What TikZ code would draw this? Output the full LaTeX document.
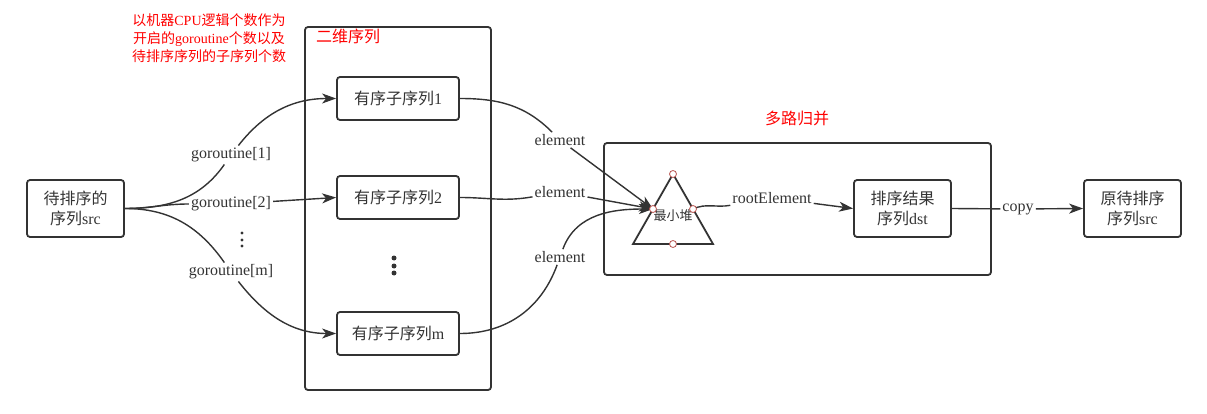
\documentclass[tikz,border=0pt]{standalone}
\usepackage{fontspec}
\setmainfont{Liberation Serif}
\newfontfamily\cjk{Noto Sans CJK SC}
\usetikzlibrary{arrows.meta, positioning, calc}
\definecolor{linegray}{HTML}{333333}
\definecolor{portred}{HTML}{B85450}
\newcommand{\boxfont}{\fontsize{16}{20}\selectfont}
\newcommand{\lblfont}{\fontsize{16}{19}\selectfont}
\newcommand{\notefont}{\fontsize{14}{18}\selectfont}

\begin{document}
\begin{tikzpicture}[x=1pt, y=1pt, color=linegray, line width=1.4pt,
  box/.style={draw, line width=1.8pt, rounded corners=3pt, align=center, font=\boxfont, inner sep=0pt},
  lbl/.style={font=\lblfont, inner sep=1.5pt},
  title/.style={text=red, font=\boxfont},
  arr/.style={-{Stealth[length=14pt, width=10pt, inset=4pt]}},
  port/.style={circle, draw=portred, fill=white, line width=0.8pt, minimum size=7pt, inner sep=0pt}]
  \useasboundingbox (0,0) rectangle (1207,413);

  % Quelle
  \node[box, minimum width=97pt, minimum height=57pt] (src) at (75.5,204.5) {{\cjk 待排序的}\\{\cjk 序列}src};
  \node[text=red, font=\notefont, align=center] (note) at (209,375)
    {{\cjk 以机器}CPU{\cjk 逻辑个数作为}\\{\cjk 开启的}goroutine{\cjk 个数以及}\\{\cjk 待排序序列的子序列个数}};

  % Zweidimensionale Folge
  \draw[line width=1.8pt, rounded corners=3pt] (305,23) rectangle (491,386);
  \node[title, anchor=west] (t2d) at (312,377) {\cjk 二维序列};
  \node[box, minimum width=122pt, minimum height=43pt] (s1) at (398,314.5) {{\cjk 有序子序列}1};
  \node[box, minimum width=122pt, minimum height=43pt] (s2) at (398,215.5) {{\cjk 有序子序列}2};
  \node[box, minimum width=122pt, minimum height=43pt] (sm) at (398,79.5) {{\cjk 有序子序列}m};
  \foreach \y in {140,147,155} \fill (394,\y) circle (2.5pt);

  % goroutines
  \node[lbl] (g1) at (231,258) {goroutine[1]};
  \node[lbl] (g2) at (231,209) {goroutine[2]};
  \node[lbl] (gm) at (231,141) {goroutine[m]};
  \foreach \y in {167,173,180} \fill (242,\y) circle (1.6pt);
  \draw (src.east) to[out=0, in=-125] (g1);
  \draw[arr] (g1) to[out=52, in=180] (s1.west);
  \draw (src.east) to[out=0, in=180] (g2);
  \draw[arr] (g2) -- (s2.west);
  \draw (src.east) to[out=0, in=125] (gm);
  \draw[arr] (gm) to[out=-52, in=180] (sm.west);

  % Mehrweg-Mischen
  \draw[line width=1.8pt, rounded corners=3pt] (604,138) rectangle (991,270);
  \node[title] (tmerge) at (797,295) {\cjk 多路归并};
  \draw[line width=1.8pt, line join=miter] (673,239) -- (713,169) -- (633,169) -- cycle;
  \node[font=\fontsize{13}{15}\selectfont] (heap) at (673,197) {\cjk 最小堆};
  \coordinate (heapL) at (653,204);
  \coordinate (heapR) at (693,204);

  \node[lbl] (e1) at (560,273) {element};
  \node[lbl] (e2) at (560,221) {element};
  \node[lbl] (e3) at (560,156) {element};
  \draw (s1.east) to[out=0, in=135] (e1);
  \draw[arr] (e1) -- (heapL);
  \draw (s2.east) to[out=0, in=190] (e2);
  \draw[arr] (e2) -- (heapL);
  \draw (sm.east) to[out=0, in=-110] (e3);
  \draw[arr] (e3) to[out=70, in=180] (heapL);

  \node[lbl] (root) at (772,215) {rootElement};
  \node[box, minimum width=97pt, minimum height=57pt] (dst) at (902.5,204.5) {{\cjk 排序结果}\\{\cjk 序列}dst};
  \draw (heapR) to[out=25, in=190] (root);
  \draw[arr] (root) -- (dst.west);

  \node[port] (pTop) at (673,239) {};
  \node[port] (pL) at (heapL) {};
  \node[port] (pR) at (heapR) {};
  \node[port] (pB) at (673,169) {};

  % Kopie
  \node[lbl] (copy) at (1018,204) {copy};
  \node[box, minimum width=97pt, minimum height=57pt] (orig) at (1132.5,204.5) {{\cjk 原待排序}\\{\cjk 序列}src};
  \draw (dst.east) -- (copy);
  \draw[arr] (copy) -- (orig.west);
\end{tikzpicture}
\end{document}
